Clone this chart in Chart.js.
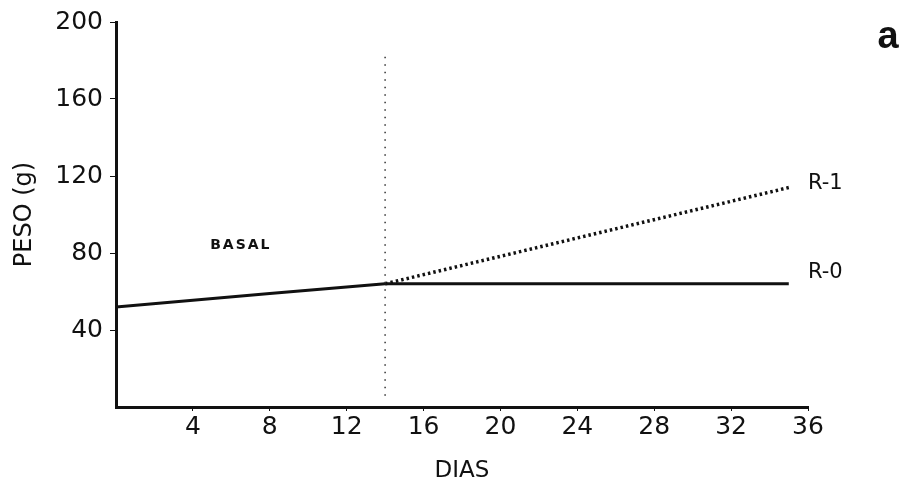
<!DOCTYPE html>
<html>
<head>
<meta charset="utf-8">
<script src="https://cdn.jsdelivr.net/npm/chart.js@4/dist/chart.umd.min.js"></script>
<style>
  html, body { margin: 0; padding: 0; background: #fff; }
  #c { display: block; }
</style>
</head>
<body>
<canvas id="c" width="905" height="491"></canvas>
<script>
// ---- data ----
const xTicks = [4, 8, 12, 16, 20, 24, 28, 32, 36];
const yTicks = [40, 80, 120, 160, 200];
const basalDays = [0, 8, 14];
const basalPeso = [52, 59, 64];
const r0Days = [14, 35];
const r0Peso = [64, 64];
const r1Days = [14, 35];
const r1Peso = [64, 114];
const splitDays = [14, 14];
const splitPeso = [182, 5];
const xTitle = 'DIAS';
const yTitle = 'PESO (g)';
const panelLetter = 'a';
const basalLabel = 'BASAL';
const r0Label = 'R-0';
const r1Label = 'R-1';

function pts(xs, ys) { return xs.map((x, i) => ({ x: x, y: ys[i] })); }

const INK = '#111';
const tickFont = { family: 'DejaVu Sans', size: 25 };

const labelsPlugin = {
  id: 'labels',
  afterDraw(chart) {
    const { ctx, scales: { x, y } } = chart;
    ctx.save();
    ctx.fillStyle = INK;
    ctx.textBaseline = 'middle';
    ctx.textAlign = 'left';
    ctx.font = 'bold 14px "DejaVu Sans"';
    ctx.letterSpacing = '2px';
    ctx.fillText(basalLabel, x.getPixelForValue(4.9), y.getPixelForValue(84));
    ctx.letterSpacing = '0px';
    ctx.font = '21px "DejaVu Sans"';
    ctx.fillText(r1Label, x.getPixelForValue(36), y.getPixelForValue(116));
    ctx.fillText(r0Label, x.getPixelForValue(36), y.getPixelForValue(70));
    ctx.font = 'bold 38px "Liberation Sans"';
    ctx.textAlign = 'center';
    ctx.fillText(panelLetter, 888, 38);
    ctx.restore();
  }
};

new Chart(document.getElementById('c'), {
  type: 'scatter',
  data: {
    datasets: [
      { data: pts(splitDays, splitPeso), showLine: true, borderColor: '#333', borderWidth: 1.5,
        borderDash: [1.5, 6], pointRadius: 0 },
      { data: pts(basalDays, basalPeso), showLine: true, borderColor: INK, borderWidth: 3, pointRadius: 0 },
      { data: pts(r0Days, r0Peso), showLine: true, borderColor: INK, borderWidth: 3, pointRadius: 0 },
      { data: pts(r1Days, r1Peso), showLine: true, borderColor: INK, borderWidth: 3.5,
        borderDash: [2.5, 3], pointRadius: 0 }
    ]
  },
  options: {
    responsive: false,
    animation: false,
    events: [],
    layout: { padding: { left: 0, top: 22, right: 97, bottom: 0 } },
    plugins: { legend: { display: false }, tooltip: { enabled: false } },
    scales: {
      x: {
        type: 'linear', min: 0, max: 36,
        afterBuildTicks(s) { s.ticks = xTicks.map(v => ({ value: v })); },
        afterFit(s) { s.height = 84; },
        border: { display: true, color: INK, width: 3 },
        grid: { display: true, drawOnChartArea: false, drawTicks: true, tickLength: 4, color: INK },
        ticks: { color: INK, font: tickFont, padding: 1, maxRotation: 0 },
        title: { display: true, text: xTitle, color: INK, font: { family: 'DejaVu Sans', size: 23 },
                 padding: { top: 0, bottom: 6 } }
      },
      y: {
        type: 'linear', min: 0, max: 200,
        afterBuildTicks(s) { s.ticks = yTicks.map(v => ({ value: v })); },
        afterFit(s) { s.width = 116; },
        border: { display: true, color: INK, width: 3 },
        grid: { display: true, drawOnChartArea: false, drawTicks: true, tickLength: 6, color: INK },
        ticks: { color: INK, font: tickFont, padding: 7 },
        title: { display: true, text: yTitle, color: INK, font: { family: 'DejaVu Sans', size: 24 },
                 padding: { top: 10, bottom: 0 } }
      }
    }
  },
  plugins: [labelsPlugin]
});
</script>
</body>
</html>
